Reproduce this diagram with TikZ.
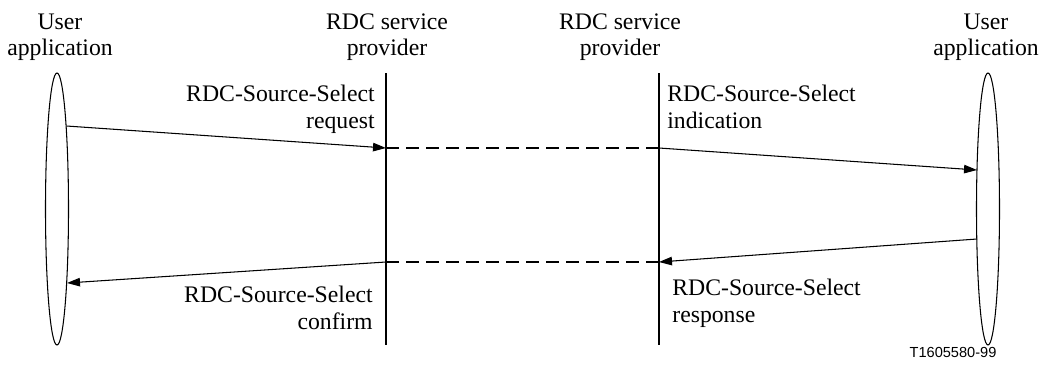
\documentclass[tikz,border=0pt]{standalone}
\usepackage{fontspec}
\setmainfont{Liberation Serif}
\setsansfont{Liberation Sans}
\usetikzlibrary{arrows.meta}

\begin{document}
\begin{tikzpicture}[
  lbl/.style={font=\fontsize{13.5}{15}\selectfont,inner sep=0pt},
  msg/.style={line width=0.6pt,-{Triangle[length=0.26cm,width=0.17cm]}},
  prov/.style={line width=1.1pt},
  link/.style={line width=1.1pt,dash pattern=on 0.26cm off 0.14cm}]
\useasboundingbox (0,0) rectangle (20.860,-7.380);
% users
\draw[line width=0.6pt] (1.140,-4.180) ellipse (0.23 and 2.72);
\draw[line width=0.6pt] (19.760,-4.180) ellipse (0.23 and 2.72);
\node[lbl,align=center,anchor=north] (ua) at (1.200,-0.270) {User\\application};
\node[lbl,align=center,anchor=north] (ub) at (19.720,-0.270) {User\\application};
% providers
\node[lbl,align=center,anchor=north] (pa) at (7.740,-0.270) {RDC service\\provider};
\node[lbl,align=center,anchor=north] (pb) at (12.400,-0.270) {RDC service\\provider};
\coordinate (pat) at (7.720,-1.460);
\coordinate (pab) at (7.720,-6.900);
\coordinate (pbt) at (13.180,-1.460);
\coordinate (pbb) at (13.180,-6.900);
\draw[prov] (pat) -- (pab);
\draw[prov] (pbt) -- (pbb);
% primitives
\coordinate (ua1) at (1.330,-2.520);
\coordinate (pa1) at (7.720,-2.960);
\coordinate (pb1) at (13.180,-2.960);
\coordinate (ub1) at (19.540,-3.400);
\coordinate (ub2) at (19.540,-4.780);
\coordinate (pb2) at (13.180,-5.240);
\coordinate (pa2) at (7.720,-5.240);
\coordinate (ua2) at (1.340,-5.660);
\draw[msg] (ua1) -- (pa1);
\draw[link] (pa1) -- (pb1);
\draw[msg] (pb1) -- (ub1);
\draw[msg] (ub2) -- (pb2);
\draw[link] (pb2) -- (pa2);
\draw[msg] (pa2) -- (ua2);
\node[lbl,align=right,anchor=north east] (req) at (7.500,-1.700) {RDC-Source-Select\\request};
\node[lbl,align=left,anchor=north west] (ind) at (13.340,-1.700) {RDC-Source-Select\\indication};
\node[lbl,align=left,anchor=north west] (rsp) at (13.440,-5.580) {RDC-Source-Select\\response};
\node[lbl,align=right,anchor=north east] (cnf) at (7.460,-5.720) {RDC-Source-Select\\confirm};
\node[font=\fontsize{8.3}{10}\sffamily,inner sep=0pt] (tag) at (19.060,-7.040) {T1605580-99};
\end{tikzpicture}
\end{document}
